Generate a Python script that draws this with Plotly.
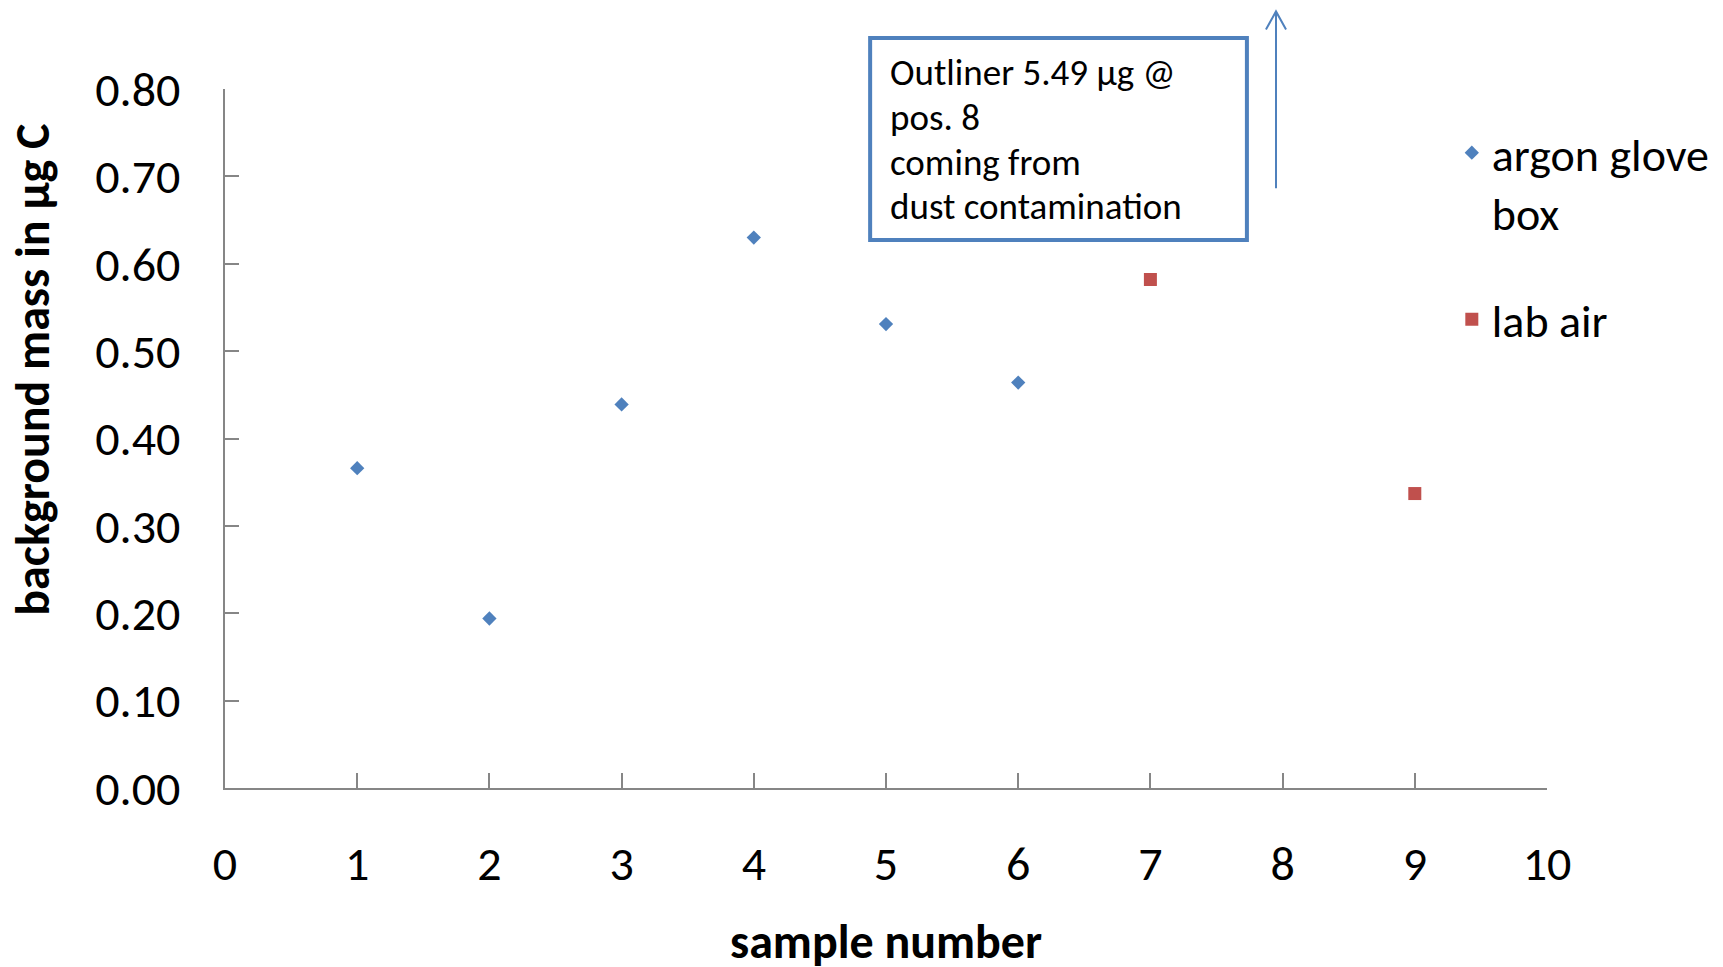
import plotly.graph_objects as go

# data
argon_x = [1, 2, 3, 4, 5, 6]
argon_y = [0.366, 0.194, 0.439, 0.630, 0.531, 0.464]
lab_x = [7, 9]
lab_y = [0.582, 0.337]
outlier_x = 8
x_ticks = list(range(0, 11))
y_ticks = [0.0, 0.1, 0.2, 0.3, 0.4, 0.5, 0.6, 0.7, 0.8]
note_lines = ["Outliner 5.49 µg @", "pos. 8", "coming from", "dust contamination"]

BLUE = "#4F81BD"
RED = "#C0504D"
AX = "#868686"
FONT = "Carlito, Lato, sans-serif"

fig = go.Figure()
fig.add_trace(go.Scatter(x=argon_x, y=argon_y, mode="markers", name="argon glove<br>box",
                         legendgroup="a",
                         marker=dict(symbol="diamond", size=11, color=BLUE)))
fig.add_trace(go.Scatter(x=lab_x, y=lab_y, mode="markers", name="lab air",
                         legendgroup="b",
                         marker=dict(symbol="square", size=13, color=RED)))

XMAX = 10
ax_paper = (outlier_x - 0.05) / XMAX

# outlier arrow
fig.add_shape(type="line", xref="paper", yref="paper", x0=ax_paper, x1=ax_paper,
              y0=0.858, y1=1.111, line=dict(color=BLUE, width=2))
fig.add_shape(type="path", xref="paper", yref="paper",
              path=f"M {ax_paper-0.0076} 1.085 L {ax_paper} 1.111 L {ax_paper+0.0076} 1.085",
              line=dict(color=BLUE, width=2))
# annotation box
fig.add_shape(type="rect", xref="paper", yref="paper", x0=0.488, x1=0.773,
              y0=0.784, y1=1.073, line=dict(color=BLUE, width=4), fillcolor="white")
line_y = [1.0236, 0.9595, 0.8953, 0.8318]
for txt, yy in zip(note_lines, line_y):
    fig.add_annotation(xref="paper", yref="paper", x=0.5015, y=yy, xanchor="left", yanchor="middle",
                       align="left", showarrow=False, text=txt,
                       font=dict(family=FONT, size=37, color="black"))

# axis titles
fig.add_annotation(xref="paper", yref="paper", x=0.5, y=-0.219, xanchor="center", yanchor="middle",
                   showarrow=False, text="<b>sample number</b>",
                   font=dict(family=FONT, size=48, color="black"))
fig.add_annotation(xref="paper", yref="paper", x=-0.1455, y=0.598, xanchor="center", yanchor="middle",
                   showarrow=False, textangle=-90, text="<b>background mass in µg C</b>",
                   font=dict(family=FONT, size=48, color="black"))

fig.update_xaxes(range=[0, 10], tickvals=x_ticks, ticks="inside", ticklen=15, tickwidth=1.5,
                 tickcolor=AX, showline=True, linecolor=AX, linewidth=2, showgrid=False,
                 zeroline=False, ticklabelstandoff=32,
                 tickfont=dict(family=FONT, size=48, color="black"))
fig.update_yaxes(range=[0, 0.8], tickvals=y_ticks, tickformat=".2f", ticks="inside", ticklen=14,
                 tickwidth=1.5, tickcolor=AX, showline=True, linecolor=AX, linewidth=2,
                 showgrid=False, zeroline=False, ticklabelstandoff=33,
                 tickfont=dict(family=FONT, size=48, color="black"))

fig.update_layout(
    width=1723, height=967,
    margin=dict(l=217, r=184, t=81, b=187),
    plot_bgcolor="white", paper_bgcolor="white",
    showlegend=True,
    legend=dict(x=0.928, y=0.961, xanchor="left", yanchor="top", valign="top",
                tracegroupgap=44, font=dict(family=FONT, size=46, color="black"),
                bgcolor="rgba(0,0,0,0)"),
)

fig.write_html("out.html")
